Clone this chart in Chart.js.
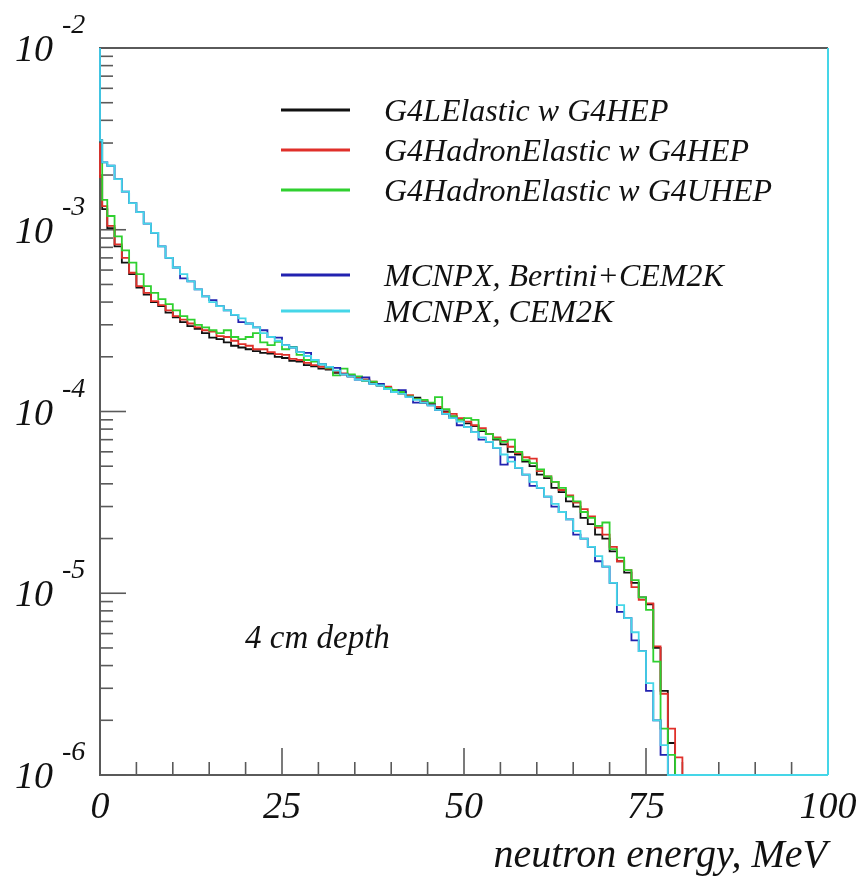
<!DOCTYPE html>
<html>
<head>
<meta charset="utf-8">
<script src="https://cdn.jsdelivr.net/npm/chart.js@4/dist/chart.umd.min.js"></script>
<style>
  html, body { margin: 0; padding: 0; background: #fff; }
  #wrap { width: 859px; height: 882px; }
</style>
</head>
<body>
<div id="wrap"><canvas id="chart" width="859" height="882"></canvas></div>
<script>
// histogram bin edges, MeV
const binEdges = [0, 0.3, 1, 2, 3, 4, 5, 6, 7, 8, 9, 10, 11, 12, 13, 14, 15, 16, 17, 18, 19, 20,
  21, 22, 23, 24, 25, 26, 27, 28, 29, 30, 31, 32, 33, 34, 35, 36, 37, 38, 39, 40,
  41, 42, 43, 44, 45, 46, 47, 48, 49, 50, 51, 52, 53, 54, 55, 56, 57, 58, 59, 60,
  61, 62, 63, 64, 65, 66, 67, 68, 69, 70, 71, 72, 73, 74, 75, 76, 77, 78, 79, 80, 81];

const xTicks = [0, 25, 50, 75, 100];
const yDecades = [-6, -5, -4, -3, -2];

const seriesNames = [
  "G4LElastic w G4HEP",
  "G4HadronElastic w G4HEP",
  "G4HadronElastic w G4UHEP",
  "MCNPX, Bertini+CEM2K",
  "MCNPX, CEM2K"
];
const seriesColors = ["#111111", "#e0302a", "#2fd02f", "#2222b0", "#45d6e8"];

const lelasticHep = [2.0e-3, 1.95e-3,
  1.3e-3, 1.02e-3, 8.1e-4, 6.6e-4, 5.7e-4, 4.8e-4, 4.4e-4, 4.0e-4, 3.8e-4, 3.5e-4,
  3.3e-4, 3.1e-4, 2.95e-4, 2.85e-4, 2.7e-4, 2.55e-4, 2.5e-4, 2.4e-4, 2.3e-4, 2.25e-4,
  2.2e-4, 2.15e-4, 2.1e-4, 2.08e-4, 2.0e-4, 1.97e-4, 1.9e-4, 1.88e-4, 1.8e-4, 1.77e-4,
  1.72e-4, 1.7e-4, 1.63e-4, 1.6e-4, 1.56e-4, 1.54e-4, 1.48e-4, 1.44e-4, 1.39e-4, 1.35e-4,
  1.3e-4, 1.28e-4, 1.21e-4, 1.19e-4, 1.12e-4, 1.1e-4, 1.04e-4, 1.0e-4, 9.4e-5, 9.1e-5,
  8.6e-5, 8.3e-5, 7.8e-5, 7.5e-5, 7.0e-5, 6.6e-5, 6.0e-5, 5.8e-5, 5.3e-5, 5.0e-5,
  4.5e-5, 4.3e-5, 3.8e-5, 3.6e-5, 3.2e-5, 3.0e-5, 2.6e-5, 2.4e-5, 2.1e-5, 2.0e-5,
  1.7e-5, 1.5e-5, 1.3e-5, 1.14e-5, 9.5e-6, 8.7e-6, 5.0e-6, 2.9e-6, 1.5e-6];

const hadronHep = [3.0e-3, 1.95e-3,
  1.35e-3, 1.05e-3, 8.3e-4, 7.0e-4, 5.8e-4, 4.9e-4, 4.5e-4, 4.05e-4, 3.85e-4, 3.6e-4,
  3.35e-4, 3.2e-4, 3.05e-4, 2.9e-4, 2.8e-4, 2.75e-4, 2.6e-4, 2.57e-4, 2.45e-4, 2.35e-4,
  2.3e-4, 2.2e-4, 2.2e-4, 2.12e-4, 2.07e-4, 2.05e-4, 1.95e-4, 1.92e-4, 1.85e-4, 1.8e-4,
  1.76e-4, 1.72e-4, 1.66e-4, 1.62e-4, 1.58e-4, 1.54e-4, 1.5e-4, 1.46e-4, 1.4e-4, 1.37e-4,
  1.31e-4, 1.25e-4, 1.23e-4, 1.17e-4, 1.14e-4, 1.09e-4, 1.06e-4, 9.9e-5, 9.7e-5, 9.2e-5,
  8.8e-5, 8.4e-5, 8.1e-5, 7.5e-5, 7.2e-5, 6.9e-5, 6.4e-5, 5.9e-5, 5.6e-5, 5.5e-5,
  4.7e-5, 4.4e-5, 4.1e-5, 3.7e-5, 3.45e-5, 3.15e-5, 2.9e-5, 2.65e-5, 2.3e-5, 2.1e-5,
  1.8e-5, 1.5e-5, 1.34e-5, 1.08e-5, 9.2e-6, 8.8e-6, 5.1e-6, 2.8e-6, 1.8e-6, 1.25e-6];

const hadronUhep = [3.2e-3, 3.1e-3,
  1.46e-3, 1.19e-3, 9.2e-4, 7.7e-4, 6.6e-4, 5.7e-4, 4.9e-4, 4.5e-4, 4.15e-4, 3.9e-4,
  3.6e-4, 3.35e-4, 3.2e-4, 3.0e-4, 2.9e-4, 2.8e-4, 2.7e-4, 2.8e-4, 2.57e-4, 2.5e-4,
  2.57e-4, 2.7e-4, 2.4e-4, 2.32e-4, 2.42e-4, 2.2e-4, 2.27e-4, 2.05e-4, 1.92e-4, 1.88e-4,
  1.82e-4, 1.74e-4, 1.58e-4, 1.72e-4, 1.6e-4, 1.56e-4, 1.48e-4, 1.46e-4, 1.4e-4, 1.35e-4,
  1.31e-4, 1.28e-4, 1.21e-4, 1.17e-4, 1.16e-4, 1.12e-4, 1.2e-4, 1.03e-4, 9.4e-5, 9.0e-5,
  9.2e-5, 9.0e-5, 7.9e-5, 7.5e-5, 7.1e-5, 6.8e-5, 7.0e-5, 6.0e-5, 5.4e-5, 5.2e-5,
  4.8e-5, 4.4e-5, 4.1e-5, 3.8e-5, 3.4e-5, 3.2e-5, 2.8e-5, 2.6e-5, 2.35e-5, 2.45e-5,
  1.75e-5, 1.57e-5, 1.34e-5, 1.18e-5, 9.5e-6, 8.1e-6, 4.2e-6, 1.8e-6, 1.29e-6];

const mcnpxBertini = [2e-2, 3.1e-3,
  2.35e-3, 2.25e-3, 1.9e-3, 1.62e-3, 1.4e-3, 1.25e-3, 1.08e-3, 9.6e-4, 8.1e-4, 7.0e-4,
  6.2e-4, 5.4e-4, 5.2e-4, 4.7e-4, 4.3e-4, 4.1e-4, 3.8e-4, 3.6e-4, 3.4e-4, 3.1e-4,
  3.05e-4, 2.9e-4, 2.8e-4, 2.57e-4, 2.55e-4, 2.32e-4, 2.25e-4, 2.12e-4, 2.1e-4, 1.92e-4,
  1.82e-4, 1.76e-4, 1.74e-4, 1.6e-4, 1.56e-4, 1.5e-4, 1.54e-4, 1.42e-4, 1.42e-4, 1.33e-4,
  1.28e-4, 1.31e-4, 1.2e-4, 1.12e-4, 1.12e-4, 1.08e-4, 1.02e-4, 9.7e-5, 9.2e-5, 8.4e-5,
  8.2e-5, 7.7e-5, 7.0e-5, 6.8e-5, 6.3e-5, 5.1e-5, 5.6e-5, 4.9e-5, 4.5e-5, 3.9e-5,
  3.8e-5, 3.4e-5, 3.0e-5, 2.8e-5, 2.55e-5, 2.1e-5, 2.0e-5, 1.8e-5, 1.5e-5, 1.4e-5,
  1.14e-5, 7.9e-6, 7.3e-6, 5.5e-6, 4.8e-6, 2.9e-6, 2.0e-6, 1.29e-6];

const mcnpxCem = [2e-2, 3.1e-3,
  2.35e-3, 2.25e-3, 1.9e-3, 1.62e-3, 1.4e-3, 1.25e-3, 1.08e-3, 9.6e-4, 8.1e-4, 7.0e-4,
  6.2e-4, 5.7e-4, 5.2e-4, 4.7e-4, 4.3e-4, 4.0e-4, 3.8e-4, 3.6e-4, 3.4e-4, 3.25e-4,
  3.05e-4, 2.9e-4, 2.7e-4, 2.57e-4, 2.45e-4, 2.32e-4, 2.25e-4, 2.12e-4, 2.02e-4, 1.92e-4,
  1.82e-4, 1.76e-4, 1.68e-4, 1.6e-4, 1.56e-4, 1.5e-4, 1.48e-4, 1.42e-4, 1.39e-4, 1.33e-4,
  1.28e-4, 1.25e-4, 1.2e-4, 1.16e-4, 1.12e-4, 1.08e-4, 1.02e-4, 9.7e-5, 9.2e-5, 8.8e-5,
  8.2e-5, 7.7e-5, 7.2e-5, 6.8e-5, 6.3e-5, 5.8e-5, 5.3e-5, 4.9e-5, 4.5e-5, 4.1e-5,
  3.8e-5, 3.4e-5, 3.1e-5, 2.8e-5, 2.55e-5, 2.2e-5, 2.0e-5, 1.8e-5, 1.6e-5, 1.4e-5,
  1.14e-5, 8.6e-6, 7.3e-6, 6.1e-6, 4.8e-6, 3.2e-6, 2.0e-6, 1.46e-6];

const allSeries = [lelasticHep, hadronHep, hadronUhep, mcnpxBertini, mcnpxCem];

// the histograms are empty past their last bin: drawn along the floor of the axis
const FLOOR = 1e-6;

function toSteps(vals) {
  const pts = vals.map((v, i) => ({ x: binEdges[i], y: v }));
  pts.push({ x: binEdges[vals.length], y: FLOOR });
  pts.push({ x: 100, y: FLOOR });
  return pts;
}

const FONT = "'Liberation Serif', 'Times New Roman', serif";
const AXIS = "#5a5a5a";

const framePlugin = {
  id: "frame",
  beforeDatasetsDraw(chart) {
    const { ctx, chartArea: a, scales } = chart;
    const xs = scales.x, ys = scales.y;
    ctx.save();
    ctx.strokeStyle = AXIS;
    ctx.lineWidth = 2;
    ctx.beginPath();
    ctx.moveTo(a.right, a.top);
    ctx.lineTo(a.left, a.top);
    ctx.lineTo(a.left, a.bottom);
    ctx.lineTo(a.right, a.bottom);
    ctx.stroke();

    // x ticks, inward
    ctx.lineWidth = 1.6;
    for (let v = 0; v <= 100; v += 5) {
      const px = xs.getPixelForValue(v);
      const len = xTicks.includes(v) ? 27 : 13;
      ctx.beginPath();
      ctx.moveTo(px, a.bottom);
      ctx.lineTo(px, a.bottom - len);
      ctx.stroke();
    }
    // y ticks, inward
    yDecades.forEach(d => {
      for (let m = 1; m <= 9; m++) {
        if (d === -2 && m > 1) break;
        const py = ys.getPixelForValue(m * Math.pow(10, d));
        const len = m === 1 ? 26 : 13;
        ctx.beginPath();
        ctx.moveTo(a.left, py);
        ctx.lineTo(a.left + len, py);
        ctx.stroke();
      }
    });
    ctx.restore();
  },
  afterDatasetsDraw(chart) {
    const { ctx, chartArea: a, scales } = chart;
    ctx.save();
    // right side of the frame
    ctx.strokeStyle = seriesColors[4];
    ctx.lineWidth = 2;
    ctx.beginPath();
    ctx.moveTo(a.right, a.top);
    ctx.lineTo(a.right, a.bottom);
    ctx.stroke();

    ctx.fillStyle = "#111";
    // x tick labels
    ctx.font = "italic 38px " + FONT;
    ctx.textAlign = "center";
    ctx.textBaseline = "alphabetic";
    xTicks.forEach(v => {
      ctx.fillText(String(v), scales.x.getPixelForValue(v), 818);
    });
    // y tick labels 10^d
    yDecades.forEach(d => {
      const py = scales.y.getPixelForValue(Math.pow(10, d));
      ctx.font = "italic 38px " + FONT;
      ctx.textAlign = "right";
      ctx.fillText("10", 53, py + 13);
      ctx.font = "italic 28px " + FONT;
      ctx.textAlign = "left";
      ctx.fillText(String(d), 62, py - 15);
    });
    // axis title
    ctx.font = "italic 40px " + FONT;
    ctx.textAlign = "right";
    ctx.fillText("neutron energy, MeV", 827, 867);

    // annotation
    ctx.font = "italic 33px " + FONT;
    ctx.textAlign = "left";
    ctx.fillText("4 cm depth", 245, 648);

    // legend
    const rows = [110, 150, 190, 275, 311];
    ctx.font = "italic 32px " + FONT;
    seriesNames.forEach((name, i) => {
      ctx.strokeStyle = seriesColors[i];
      ctx.lineWidth = 3;
      ctx.beginPath();
      ctx.moveTo(281, rows[i]);
      ctx.lineTo(350, rows[i]);
      ctx.stroke();
      ctx.fillStyle = "#111";
      ctx.fillText(name, 384, rows[i] + 11);
    });
    ctx.restore();
  }
};

new Chart(document.getElementById("chart"), {
  type: "line",
  data: {
    datasets: allSeries.map((vals, i) => ({
      label: seriesNames[i],
      data: toSteps(vals),
      borderColor: seriesColors[i],
      borderWidth: 1.8,
      stepped: "after",
      pointRadius: 0,
      fill: false,
      order: allSeries.length - 1 - i, // later series drawn on top
      clip: { left: 1, top: 0, right: 1, bottom: 2 }
    }))
  },
  options: {
    responsive: false,
    animation: false,
    layout: { padding: { left: 100, right: 31, top: 48, bottom: 107 } },
    plugins: { legend: { display: false }, tooltip: { enabled: false } },
    scales: {
      x: { type: "linear", min: 0, max: 100, display: false },
      y: { type: "logarithmic", min: 1e-6, max: 1e-2, display: false }
    }
  },
  plugins: [framePlugin]
});
</script>
</body>
</html>
